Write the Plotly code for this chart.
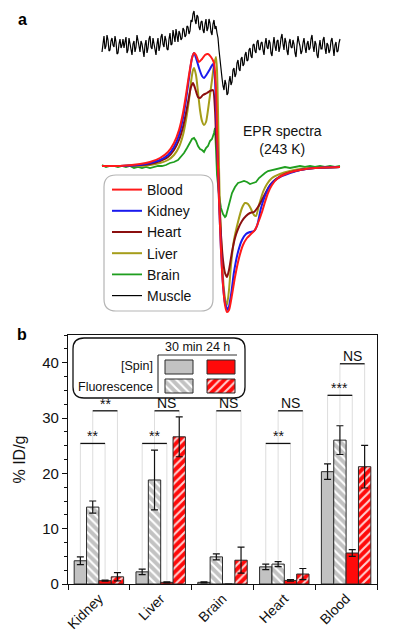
import plotly.graph_objects as go

FONT = "Arial, Liberation Sans, sans-serif"
W, H = 392, 627      # page body adds an 8 px margin -> 400 x 635 window
OFF = 8

# ---------------- Panel a: EPR spectra (arbitrary units) ----------------
blood_field = [102,120,140,150,160,168,174,179,183,186,189,192,194,196,199,202,205,208,211,214,216,217,218,219,221,223,225,227,229,232,235,239,243,247,251,255,258,262,265,268,272,278,288,300,315,340]
blood_signal = [166,166,164,162,158,152,143,130,113,95,75,58,53,55,62,59,55,54,57,63,90,130,167,200,250,285,305,312,310,295,277,258,245,238,234,230,223,212,202,193,185,178,173,170,168,167]

kidney_field = [102,120,140,150,160,168,174,179,183,186,189,192,194,196,199,202,204,207,210,213,215,216,217,218,219,221,223,225,228,231,234,238,242,246,250,254,257,261,265,269,274,280,290,300,315,340]
kidney_signal = [166,166,165,163,160,155,147,135,118,100,78,58,53,58,68,76,78,74,69,64,80,110,140,167,200,250,285,303,310,295,272,252,240,234,232,231,226,208,196,187,181,177,173,170,168,167]

heart_field = [102,120,140,150,160,168,174,179,183,186,189,191,193,195,198,200,203,207,210,213,215,216,217,218,219,221,223,225,227,229,232,235,238,242,246,250,254,258,262,266,270,276,285,300,315,340]
heart_signal = [166,166,165,164,161,157,150,140,127,113,97,87,83,88,97,98,95,93,91,90,110,135,150,167,195,235,260,273,277,270,252,238,229,221,216,213,212,207,200,192,185,179,174,170,168,167]

liver_field = [102,120,140,150,160,168,174,179,183,186,189,191,193,194,196,198,200,202,204,206,208,210,212,214,216,217,218,219,220,222,224,226,227,229,231,234,238,242,245,248,251,254,256,259,263,267,272,280,290,300,315,340]
liver_signal = [166,166,166,165,163,160,155,147,135,120,100,82,70,68,75,92,110,121,125,122,110,95,80,65,57,70,110,167,210,260,290,303,305,290,265,240,222,208,203,204,209,215,216,205,192,184,178,174,171,169,168,167]

brain_field = [102,106,110,114,118,122,126,130,134,138,142,146,150,154,158,162,166,170,174,178,181,184,187,190,192,194,196,198,200,202,204,206,208,210,212,214,215,216,217,219,221,223,225,226,228,230,232,235,238,241,244,247,250,253,256,259,262,265,268,272,276,280,285,290,295,300,305,310,315,320,325,330,335,340]
brain_signal = [165,167,166,166,167,166,167,166,168,167,168,167,168,167,166,166,165,163,162,160,157,153,148,142,139,138,141,146,149,150,152,148,146,141,139,133,128,150,175,195,208,214,217,216,208,199,193,187,183,182,181,182,184,183,182,178,175,173,171,170,169,168,167,168,167,166,167,166,167,166,167,166,167,166]

muscle_field = list(range(102, 341))
muscle_signal = [52,44,36,49,46,35,40,51,50,41,38,45,47,36,42,54,53,44,39,48,
                 45,39,48,42,37,53,50,38,43,49,55,44,41,52,47,35,39,46,52,41,
                 44,50,57,45,40,53,48,39,36,47,49,38,43,50,55,44,38,51,46,37,
                 34,44,47,36,40,49,50,39,33,45,44,30,37,42,29,38,42,31,34,40,
                 38,28,30,37,35,26,27,34,31,20,22,14,11,20,24,15,17,27,30,22,
                 21,30,33,24,19,31,28,19,23,32,35,24,20,29,26,33,38,50,62,72,
                 78,86,90,80,84,95,93,82,76,85,82,70,68,77,74,63,60,69,71,59,
                 57,66,64,55,52,61,60,50,48,56,58,45,44,51,53,42,40,49,50,43,
                 42,50,55,44,38,47,49,40,43,53,56,45,37,46,51,41,40,52,47,38,
                 34,44,50,38,42,51,55,43,39,47,48,40,44,53,57,45,36,42,46,54,
                 51,43,38,47,53,44,41,50,48,39,35,46,52,41,44,55,58,47,40,49,
                 49,40,37,48,54,43,45,53,50,41,38,47,56,45,42,52,51,43,39]

# ---------------- Panel b: biodistribution ----------------
organs = ["Kidney", "Liver", "Brain", "Heart", "Blood"]
spin_30min = [4.2, 2.2, 0.3, 3.1, 20.3]
spin_30min_err = [0.7, 0.5, 0.1, 0.5, 1.4]
fluo_30min = [13.9, 18.8, 4.9, 3.6, 26.0]
fluo_30min_err = [1.1, 5.4, 0.55, 0.45, 2.6]
spin_24h = [0.6, 0.3, 0.0, 0.65, 5.6]
spin_24h_err = [0.1, 0.1, 0.0, 0.15, 0.6]
fluo_24h = [1.3, 26.6, 4.3, 1.8, 21.2]
fluo_24h_err = [0.75, 3.6, 2.35, 1.0, 3.85]

sig_organ = [0, 0, 1, 1, 2, 3, 3, 4, 4]
sig_bars = [(0, 2), (1, 3), (0, 2), (1, 3), (1, 3), (0, 2), (1, 3), (0, 2), (1, 3)]
sig_level = [25.4, 31.3, 25.4, 31.3, 31.3, 25.4, 31.3, 34.1, 39.8]
sig_label = ["**", "**", "**", "NS", "NS", "**", "NS", "***", "NS"]


def px_x(p):
    return (p - OFF) / W


def px_y(p):
    return 1 - (p - OFF) / H


GRAY = "#c2c2c2"
RED = "#ff0a0a"
EDGE = "#2a2a2a"

fig = go.Figure()

# spectra
spectra = [
    ("Muscle", muscle_field, muscle_signal, "#000000", 1.2, 6),
    ("Brain", brain_field, brain_signal, "#1f9e1f", 1.8, 5),
    ("Liver", liver_field, liver_signal, "#a59d1a", 2.0, 4),
    ("Heart", heart_field, heart_signal, "#8b0f0f", 2.0, 3),
    ("Kidney", kidney_field, kidney_signal, "#1a1aee", 2.0, 2),
    ("Blood", blood_field, blood_signal, "#ff1a1a", 2.0, 1),
]
for name, xf, ys, col, lw, rank in spectra:
    smooth = name not in ("Muscle", "Brain")
    fig.add_trace(go.Scatter(x=xf, y=ys, mode="lines", name=name,
                             line=dict(color=col, width=lw, shape="spline" if smooth else "linear",
                                       smoothing=0.6 if smooth else None),
                             legendrank=rank, xaxis="x2", yaxis="y2", showlegend=True))

# bars
bar_specs = [
    (spin_30min, spin_30min_err, GRAY, None),
    (fluo_30min, fluo_30min_err, GRAY, "\\"),
    (spin_24h, spin_24h_err, RED, None),
    (fluo_24h, fluo_24h_err, RED, "/"),
]


def bar_marker(col, pat):
    marker = dict(color=col, line=dict(color=EDGE, width=1))
    if pat:
        marker["pattern"] = dict(shape=pat, fgcolor="#ffffff" if col == GRAY else "#ffd0d0",
                                 bgcolor=col, size=6, solidity=0.35, fillmode="replace")
    return marker


for vals, errs, col, pat in bar_specs:
    fig.add_trace(go.Bar(x=organs, y=vals, marker=bar_marker(col, pat), showlegend=False,
                         error_y=dict(type="data", array=errs, visible=True, color="#111111",
                                      thickness=1.2, width=3.5),
                         xaxis="x", yaxis="y"))

# legend swatches for panel b (on a helper axis)
swatches = [
    (179, 360, GRAY, None), (221, 360, RED, None),
    (179, 379, GRAY, "\\"), (221, 379, RED, "/"),
]
for cx, top, col, pat in swatches:
    fig.add_trace(go.Bar(x=[cx], y=[14], base=[top], width=[28], offset=-14,
                         marker=bar_marker(col, pat), showlegend=False, hoverinfo="skip",
                         xaxis="x3", yaxis="y3"))

shapes = []
annotations = []

# significance brackets
vals_all = [spin_30min, fluo_30min, spin_24h, fluo_24h]
errs_all = [spin_30min_err, fluo_30min_err, spin_24h_err, fluo_24h_err]
for g, (b1, b2), lvl, lab in zip(sig_organ, sig_bars, sig_level, sig_label):
    xa = g - 0.3 + 0.2 * b1
    xb = g - 0.3 + 0.2 * b2
    for b, xx in ((b1, xa), (b2, xb)):
        top = vals_all[b][g] + errs_all[b][g]
        shapes.append(dict(type="line", xref="x", yref="y", x0=xx, x1=xx, y0=lvl, y1=top + 0.2,
                           line=dict(color="#d4d4d4", width=0.8), layer="below"))
    shapes.append(dict(type="line", xref="x", yref="y", x0=xa, x1=xb, y0=lvl, y1=lvl,
                       line=dict(color="#111111", width=1.3)))
    annotations.append(dict(x=(xa + xb) / 2, y=lvl, xref="x", yref="y", text=lab, showarrow=False,
                            xanchor="center", yanchor="bottom", yshift=-3 if "*" in lab else -2,
                            font=dict(family=FONT, size=14, color="#111")))


def rounded_rect(x0, y0, x1, y1, r):
    X0, X1 = px_x(x0), px_x(x1)
    Y0, Y1 = px_y(y0), px_y(y1)
    rx, ry = r / W, r / H
    return (f"M{X0+rx},{Y0} L{X1-rx},{Y0} Q{X1},{Y0} {X1},{Y0-ry} "
            f"L{X1},{Y1+ry} Q{X1},{Y1} {X1-rx},{Y1} L{X0+rx},{Y1} Q{X0},{Y1} {X0},{Y1+ry} "
            f"L{X0},{Y0-ry} Q{X0},{Y0} {X0+rx},{Y0} Z")


# panel a legend box
shapes.append(dict(type="path", xref="paper", yref="paper", path=rounded_rect(104, 175, 213, 311, 12),
                   line=dict(color="#b5b5b5", width=1.2), fillcolor="white", layer="below"))
# panel b legend box
shapes.append(dict(type="path", xref="paper", yref="paper", path=rounded_rect(73, 338, 245, 398, 11),
                   line=dict(color="#111111", width=1.3), fillcolor="white", layer="below"))
shapes.append(dict(type="line", xref="paper", yref="paper", x0=px_x(158), x1=px_x(237), y0=px_y(355), y1=px_y(355),
                   line=dict(color="#333333", width=1)))
shapes.append(dict(type="line", xref="paper", yref="paper", x0=px_x(158), x1=px_x(158), y0=px_y(355), y1=px_y(393),
                   line=dict(color="#111", width=1)))


def note(px, py, text, size, xanchor="center", yanchor="middle", color="#111"):
    return dict(x=px_x(px), y=px_y(py), xref="paper", yref="paper", text=text, showarrow=False,
                xanchor=xanchor, yanchor=yanchor, font=dict(family=FONT, size=size, color=color))


annotations += [
    note(197, 347, "30 min 24 h", 12.5),
    note(155, 366, "[Spin]", 12.5, xanchor="right"),
    note(155, 387, "Fluorescence", 12.5, xanchor="right"),
    note(282, 140, "EPR spectra<br>(243 K)", 14),
    note(22, 9, "<b>a</b>", 16, yanchor="top", color="#000"),
    note(22, 335, "<b>b</b>", 16, color="#000"),
]

fig.update_layout(
    width=W, height=H, margin=dict(l=0, r=0, t=0, b=0, autoexpand=False),
    paper_bgcolor="white", plot_bgcolor="rgba(0,0,0,0)",
    font=dict(family=FONT, color="#111"),
    barmode="group", bargap=0.2, bargroupgap=0,
    shapes=shapes, annotations=annotations,
    legend=dict(x=px_x(107), y=px_y(174), xanchor="left", yanchor="top",
                bgcolor="rgba(0,0,0,0)", borderwidth=0, font=dict(family=FONT, size=14, color="#111"),
                itemwidth=30, tracegroupgap=0),
    xaxis=dict(domain=[px_x(68), px_x(377)], type="category", range=[-0.5, 4.5],
               tickson="boundaries", ticks="outside", ticklen=5, tickwidth=1.2, tickcolor="#111",
               tickangle=-45, showline=True, linecolor="#111", linewidth=1.2, mirror=True,
               tickfont=dict(family=FONT, size=14, color="#111"), showgrid=False, zeroline=False,
               anchor="y", automargin=False),
    yaxis=dict(domain=[px_y(584), px_y(335)], range=[0, 45], tick0=0, dtick=10,
               ticks="outside", ticklen=5, tickwidth=1.2, tickcolor="#111",
               minor=dict(ticks="outside", ticklen=3, dtick=2.5, tickcolor="#111", tickwidth=1),
               showline=True, linecolor="#111", linewidth=1.2, mirror=True,
               tickfont=dict(family=FONT, size=15, color="#111"), showgrid=False, zeroline=False,
               title=dict(text="% ID/g", font=dict(family=FONT, size=16, color="#111"), standoff=12),
               anchor="x", automargin=False),
    xaxis2=dict(domain=[px_x(101), px_x(341)], range=[101, 341], visible=False, anchor="y2", automargin=False),
    yaxis2=dict(domain=[px_y(320), px_y(8)], range=[320, 8], visible=False, anchor="x2", automargin=False),
    xaxis3=dict(domain=[px_x(160), px_x(240)], range=[160, 240], visible=False, anchor="y3", automargin=False),
    yaxis3=dict(domain=[px_y(396), px_y(355)], range=[396, 355], visible=False, anchor="x3", automargin=False),
)

fig.write_html("out.html")
